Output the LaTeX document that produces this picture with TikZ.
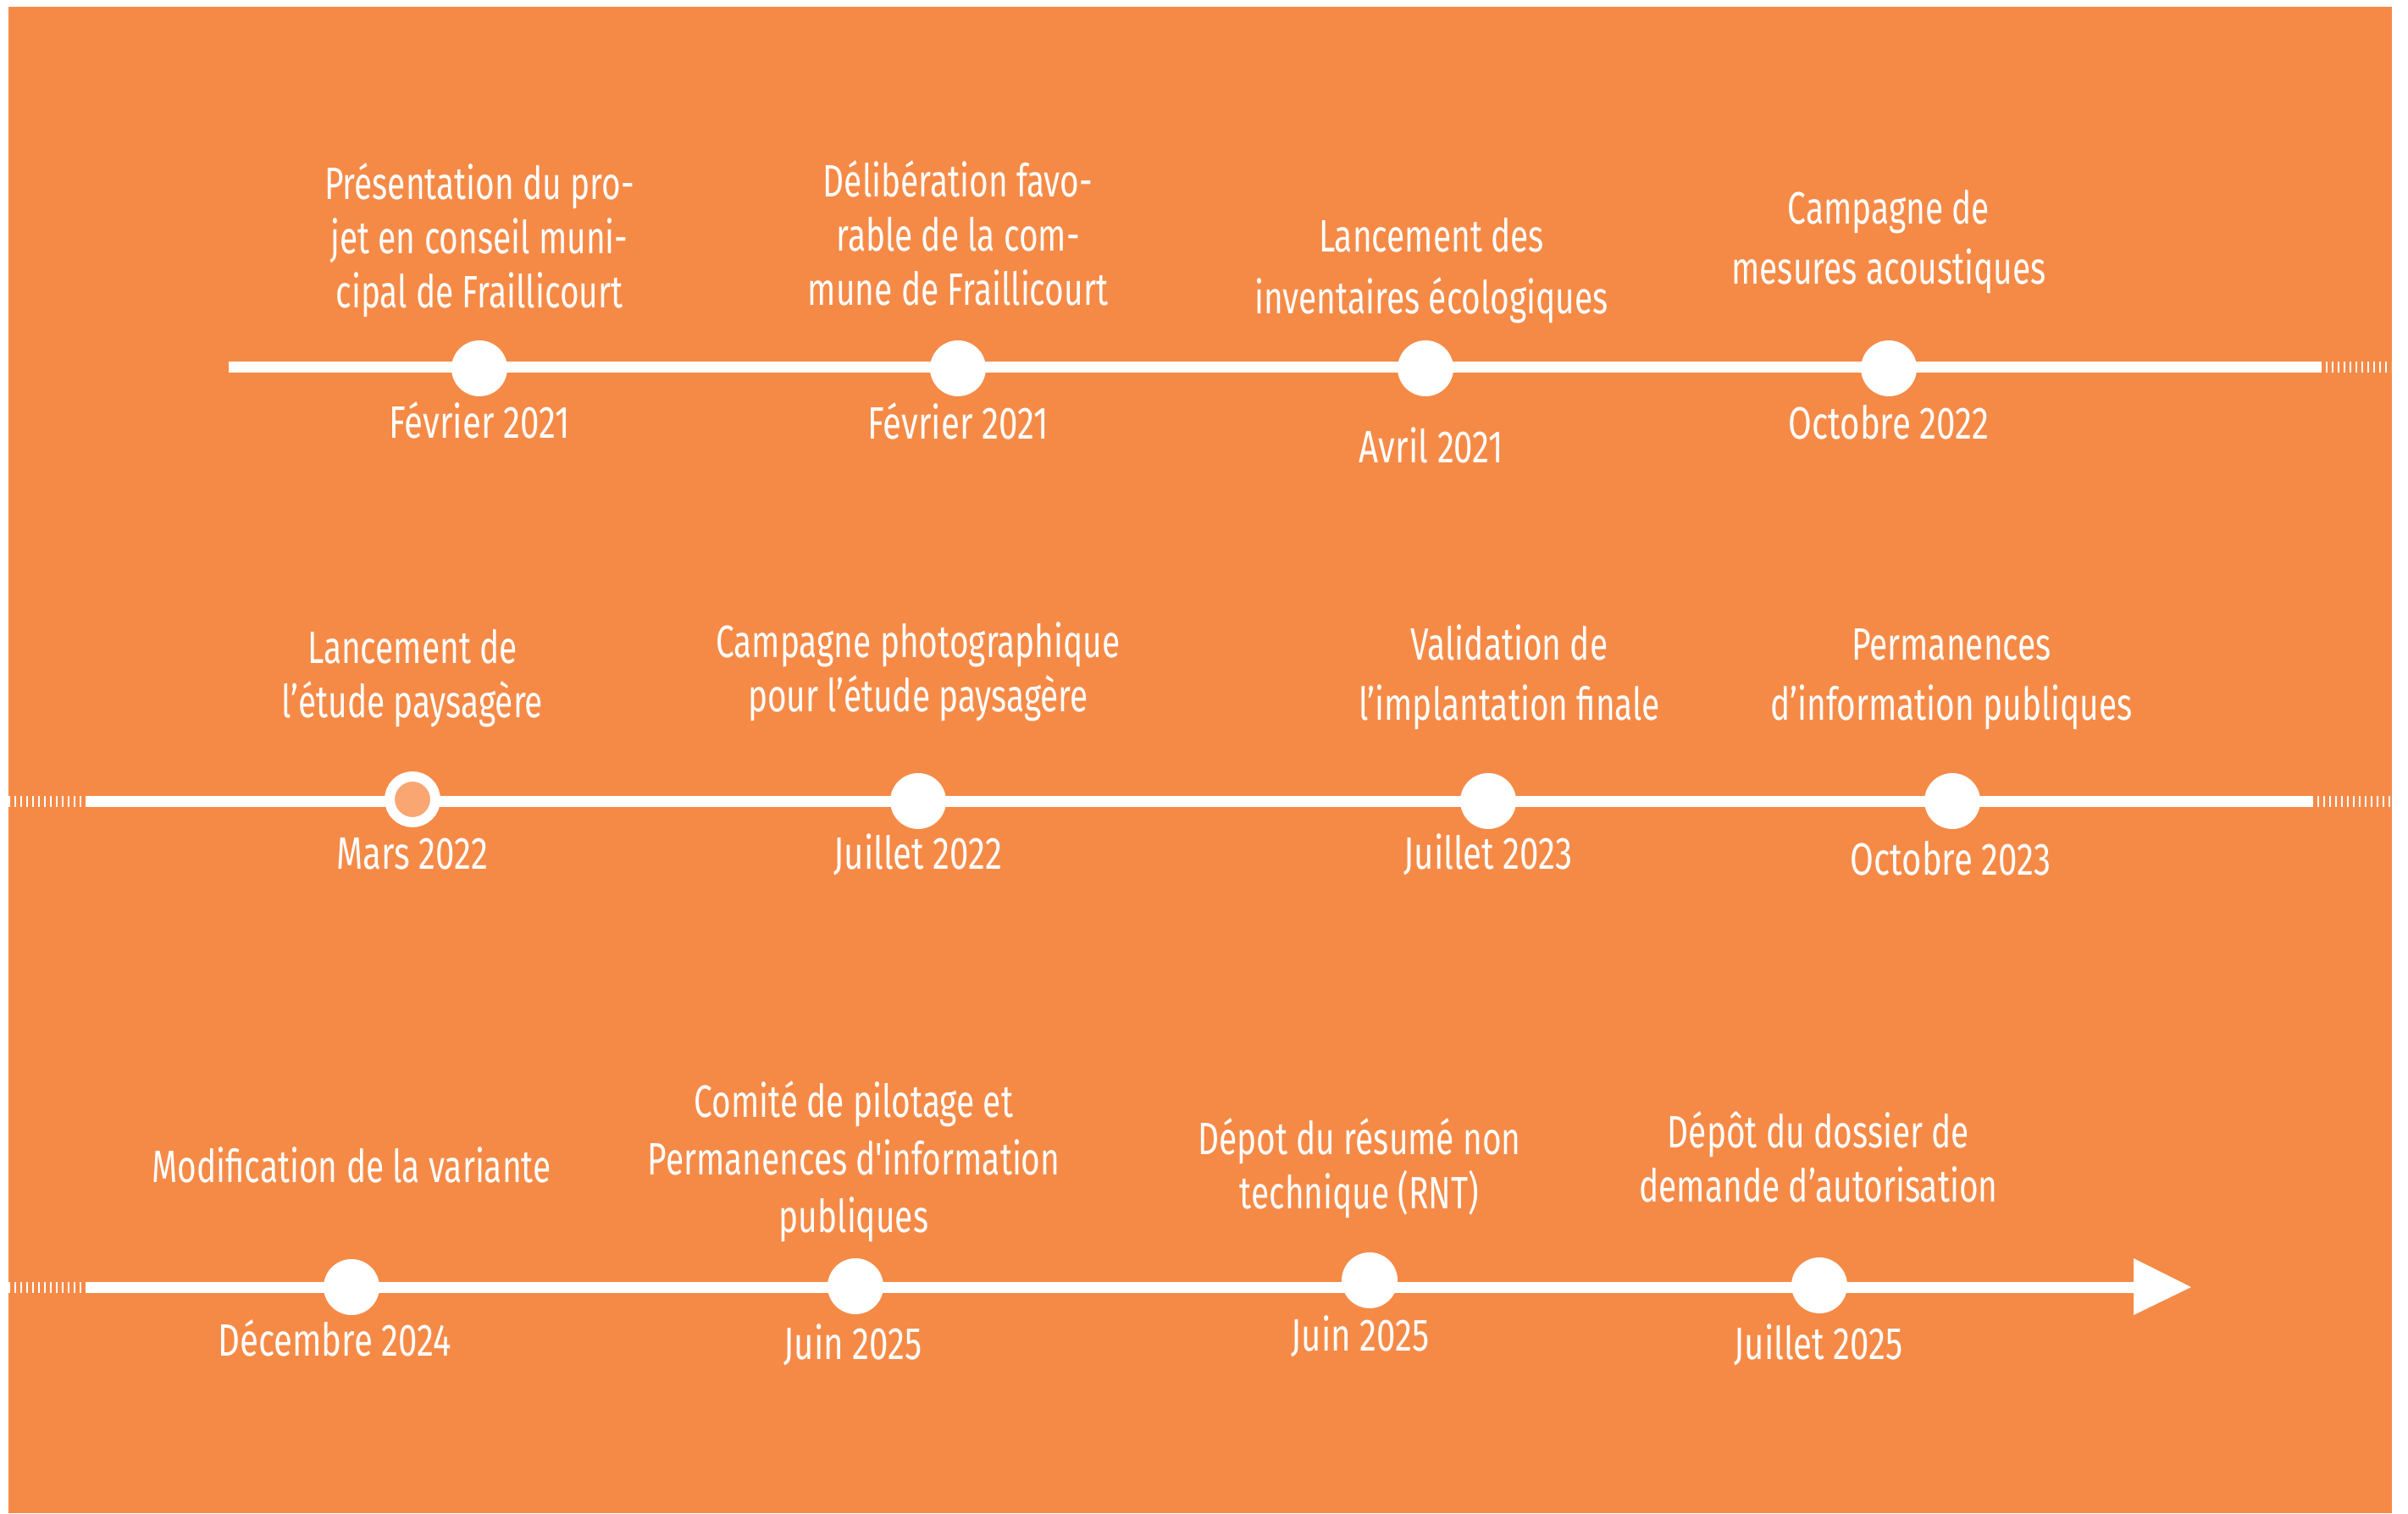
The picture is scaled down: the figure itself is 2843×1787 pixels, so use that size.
\documentclass[tikz,border=0pt]{standalone}
\usepackage{fontspec}
\newfontfamily\dinf{Fira Sans}[FakeStretch=0.725]
\newfontfamily\dindate{Fira Sans}[FakeStretch=0.75]
\definecolor{bgorange}{RGB}{245,138,71}
\definecolor{ringfill}{RGB}{249,166,115}
\begin{document}
\begin{tikzpicture}[x=0.25pt,y=-0.25pt,
  lbl/.style={text=white, font=\dinf\fontsize{13.4}{16}\selectfont, align=center, anchor=base, inner sep=0pt},
  datel/.style={text=white, font=\dindate\fontsize{13.4}{16}\selectfont, anchor=base, inner sep=0pt},
  dot/.style={circle, fill=white, minimum size=16.5pt, inner sep=0pt},
  ring/.style={circle, fill=ringfill, draw=white, line width=3pt, minimum size=13.5pt, inner sep=0pt},
  tl/.style={white, line width=3.25pt},
  tldash/.style={white, line width=3.25pt, dash pattern=on 0.6pt off 1.15pt},
  tip/.style={fill=white}]
\useasboundingbox (0,0) rectangle (2843,1787);
\fill[white] (0,0) rectangle (2843,1787);
\fill[bgorange] (10,8) rectangle (2824,1787);

% row 1
\coordinate (r1a) at (270,433);
\coordinate (r1b) at (2739,433);
\coordinate (r1c) at (2823,433);
\draw[tl] (r1a) -- (r1b);
\draw[tldash] (r1b) -- (r1c);
\node[dot] (p1) at (566,435) {};
\node[dot] (p2) at (1131,435) {};
\node[dot] (p3) at (1683,435) {};
\node[dot] (p4) at (2230,435) {};
\node[lbl] (t1) at (566,363) {Présentation du pro-\\jet en conseil muni-\\cipal de Fraillicourt};
\node[datel] (d1) at (566,517) {Février 2021};
\node[lbl] (t2) at (1131,360) {Délibération favo-\\rable de la com-\\mune de Fraillicourt};
\node[datel] (d2) at (1131,518) {Février 2021};
\node[lbl, font=\dinf\fontsize{13.4}{18.25}\selectfont] (t3) at (1690,370) {Lancement des\\inventaires écologiques};
\node[datel] (d3) at (1690,546) {Avril 2021};
\node[lbl, font=\dinf\fontsize{13.4}{17.75}\selectfont] (t4) at (2230,335) {Campagne de\\mesures acoustiques};
\node[datel] (d4) at (2230,518) {Octobre 2022};

% row 2
\coordinate (r2a) at (10,946);
\coordinate (r2b) at (102,946);
\coordinate (r2c) at (2729,946);
\coordinate (r2d) at (2823,946);
\draw[tldash] (r2a) -- (r2b);
\draw[tl] (r2b) -- (r2c);
\draw[tldash] (r2c) -- (r2d);
\node[ring] (p5) at (487,944) {};
\node[dot] (p6) at (1084,946) {};
\node[dot] (p7) at (1757,946) {};
\node[dot] (p8) at (2305,946) {};
\node[lbl] (t5) at (487,847) {Lancement de\\l’étude paysagère};
\node[datel] (d5) at (487,1026) {Mars 2022};
\node[lbl] (t6) at (1084,840) {Campagne photographique\\pour l’étude paysagère};
\node[datel] (d6) at (1084,1026) {Juillet 2022};
\node[lbl, font=\dinf\fontsize{13.4}{17.75}\selectfont] (t7) at (1782,850) {Validation de\\l’implantation finale};
\node[datel] (d7) at (1757,1026) {Juillet 2023};
\node[lbl, font=\dinf\fontsize{13.4}{17.75}\selectfont] (t8) at (2304,850) {Permanences\\d’information publiques};
\node[datel] (d8) at (2303,1033) {Octobre 2023};

% row 3
\coordinate (r3a) at (10,1520);
\coordinate (r3b) at (102,1520);
\coordinate (r3c) at (2519,1520);
\draw[tldash] (r3a) -- (r3b);
\draw[tl] (r3b) -- (r3c);
\fill[tip] (2519,1486) -- (2587,1520) -- (2519,1553) -- cycle;
\node[dot] (p9) at (415,1520) {};
\node[dot] (p10) at (1010,1519) {};
\node[dot] (p11) at (1617,1512) {};
\node[dot] (p12) at (2148,1518) {};
\node[lbl] (t9) at (415,1396) {Modification de la variante};
\node[datel] (d9) at (395,1601) {Décembre 2024};
\node[lbl, font=\dinf\fontsize{13.4}{17}\selectfont] (t10) at (1008,1455) {Comité de pilotage et\\Permanences d'information\\publiques};
\node[datel] (d10) at (1007,1605) {Juin 2025};
\node[lbl] (t11) at (1605,1427) {Dépot du résumé non\\technique (RNT)};
\node[datel] (d11) at (1606,1595) {Juin 2025};
\node[lbl] (t12) at (2147,1419) {Dépôt du dossier de\\demande d’autorisation};
\node[datel] (d12) at (2147,1605) {Juillet 2025};
\end{tikzpicture}
\end{document}
